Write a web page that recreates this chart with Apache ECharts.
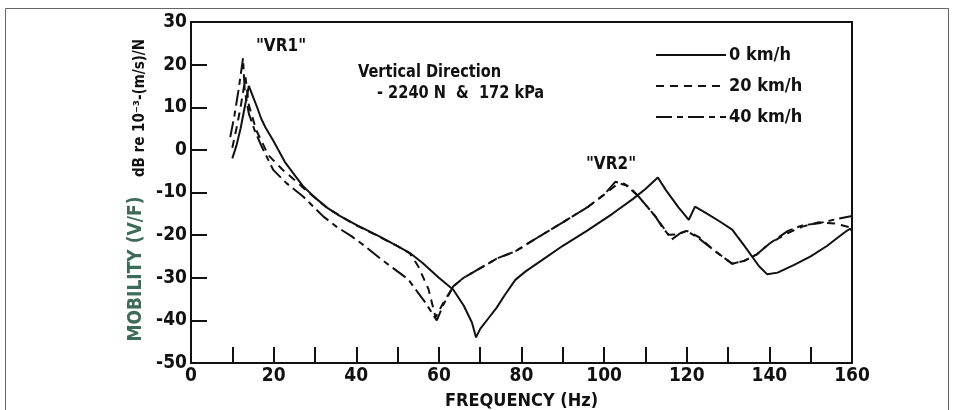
<!DOCTYPE html>
<html>
<head>
<meta charset="utf-8">
<script src="https://cdn.jsdelivr.net/npm/echarts@6/dist/echarts.min.js"></script>
<style>
html,body{margin:0;padding:0;background:#fff;}
#chart{width:960px;height:410px;}
</style>
</head>
<body>
<div id="chart"></div>
<script>
// ---- data ----
const seriesNames = ['0 km/h', '20 km/h', '40 km/h'];

const freq0 = [10, 11, 12, 13, 14, 15, 16, 17, 18, 20, 22.7, 25, 27.2, 30, 33, 36, 40, 45, 50, 53, 56, 60, 63.5, 66, 68, 69, 70, 72, 74, 76, 78.5, 81, 84, 90, 96, 102, 107, 110, 113, 115, 118, 120.5, 122, 125, 128, 131, 134, 137.5, 139.5, 142, 146, 150, 154, 158, 159.5, 160];
const mob0  = [-2, 1, 5, 10, 15, 12.5, 10, 7.3, 5.3, 2, -2.8, -5.8, -8.6, -11.2, -13.6, -15.5, -17.6, -20, -22.6, -24.2, -26.5, -30, -32.8, -36.5, -40.5, -44, -42, -39.5, -37, -34, -30.5, -28.5, -26.5, -22.5, -18.9, -15, -11.5, -9.2, -6.5, -9.5, -13.5, -16.4, -13.3, -15, -16.8, -18.7, -22.6, -27.3, -29.2, -28.8, -27, -25, -22.5, -19.5, -18.5, -19];

const freq20 = [10, 11, 12, 13.2, 14, 15.8, 18.7, 22, 25, 28, 30, 33, 40, 45, 50, 53, 55, 57.5, 59.2, 61, 63.5, 66, 69.6, 74, 78.5, 84, 90, 96.2, 100, 103.5, 106, 108.4, 112.4, 115.6, 117.9, 120, 123, 126.5, 131, 134, 137, 140, 144.5, 148, 152, 156, 160];
const mob20  = [0.5, 5, 10, 17, 10.5, 4.6, -1.2, -4.5, -7, -9.6, -11.2, -13.7, -17.7, -20.1, -22.6, -24.3, -27.3, -32.7, -39.3, -36, -32, -30, -28, -25.5, -23.8, -20.5, -17, -13.3, -10.5, -7.8, -8.5, -11, -15.6, -19.9, -19.8, -19, -20.5, -23.5, -26.7, -26, -24.5, -22, -19.5, -18, -17, -17.3, -18.3];

const freq40 = [9.5, 10.5, 11.5, 12.6, 13, 14, 15.4, 17, 19.9, 23.1, 27.2, 32, 35.2, 38.9, 42, 46.1, 49, 52.6, 56.7, 59.5, 61, 63.5, 66, 69.6, 74, 78.5, 84, 90, 96.2, 100, 102.7, 105, 108.4, 112.4, 114, 116.4, 118.5, 120, 123, 126.5, 131, 134, 137, 140, 144.5, 148, 152, 156, 160];
const mob40  = [3, 8, 14, 21.5, 14, 8.5, 4.6, 1, -4.7, -7.8, -11, -15.6, -18, -20.3, -22.5, -25.7, -27.8, -30.4, -35.8, -40, -36.5, -32, -30, -28, -25.5, -23.8, -20.5, -17, -13.3, -10.5, -7.5, -8, -11, -15.6, -18, -21, -19.5, -19, -20.8, -23.5, -26.7, -26, -24.5, -22, -19, -17.7, -17.2, -16.3, -15.5];

const xTickLabels = ['0', '20', '40', '60', '80', '100', '120', '140', '160'];
const yTickLabels = ['-50', '-40', '-30', '-20', '-10', '0', '10', '20', '30'];

const FONT = "'Liberation Sans Narrow','DejaVu Sans Condensed','Roboto Condensed','Liberation Sans',Arial,sans-serif";

function pairs(fx, fy) { return fx.map((f, i) => [f, fy[i]]); }

const chart = echarts.init(document.getElementById('chart'), null, {renderer: 'canvas'});

const lineCommon = {type: 'line', symbol: 'none', showSymbol: false, smooth: false, z: 3};

const option = {
  animation: false,
  backgroundColor: '#ffffff',
  grid: {left: 191, right: 108, top: 22, bottom: 47, containLabel: false, outerBoundsMode: 'none',
    show: true, borderColor: '#111', borderWidth: 2, backgroundColor: 'transparent'},
  legend: {
    left: 650, top: 41, orient: 'vertical', itemWidth: 70, itemHeight: 14, itemGap: 13,
    data: seriesNames,
    itemStyle: {opacity: 0, borderWidth: 0},
    textStyle: {fontFamily: FONT, fontSize: 18, color: '#111', fontWeight: 'bold', padding: [0, 0, 0, -2]}
  },
  xAxis: {
    type: 'value', min: 0, max: 160, interval: 10,
    axisLine: {show: true, onZero: false, lineStyle: {color: '#111', width: 2}},
    axisTick: {show: true, inside: true, length: 16, lineStyle: {color: '#111', width: 2}},
    splitLine: {show: false},
    axisLabel: {
      margin: 4, fontFamily: FONT, fontSize: 19, color: '#111', fontWeight: 'bold',
      formatter: function (v) { const s = String(v); return xTickLabels.indexOf(s) >= 0 ? s : ''; }
    },
    name: 'FREQUENCY (Hz)', nameLocation: 'middle', nameGap: 29,
    nameTextStyle: {fontFamily: FONT, fontSize: 18, fontWeight: 'bold', color: '#111'}
  },
  yAxis: {
    type: 'value', min: -50, max: 30, interval: 10,
    axisLine: {show: true, onZero: false, lineStyle: {color: '#111', width: 2}},
    axisTick: {show: true, inside: true, length: 16, lineStyle: {color: '#111', width: 2}},
    splitLine: {show: false},
    axisLabel: {
      margin: 4, fontFamily: FONT, fontSize: 19, color: '#111', fontWeight: 'bold',
      formatter: function (v) { const s = String(v); return yTickLabels.indexOf(s) >= 0 ? s : ''; }
    }
  },
  graphic: [
    {type: 'rect', silent: true, shape: {x: 5.5, y: 8.5, width: 943, height: 430}, style: {fill: 'none', stroke: '#666', lineWidth: 1}, z: 0},
    {type: 'text', x: 136, y: 269, rotation: Math.PI / 2, silent: true,
      style: {text: 'MOBILITY (V/F)', fontFamily: FONT, fontSize: 19, fontWeight: 'bold', fill: '#3d6b5a', align: 'center', verticalAlign: 'middle'}},
    {type: 'text', x: 140, y: 108, rotation: Math.PI / 2, silent: true,
      style: {text: 'dB re 10\u207B\u00B3-(m/s)/N', fontFamily: FONT, fontSize: 15, fontWeight: 'bold', fill: '#111', align: 'center', verticalAlign: 'middle'}},
    {type: 'text', x: 281, y: 47, silent: true,
      style: {text: '"VR1"', fontFamily: FONT, fontSize: 17, fontWeight: 'bold', fill: '#111', align: 'center', verticalAlign: 'middle'}},
    {type: 'text', x: 611, y: 165, silent: true,
      style: {text: '"VR2"', fontFamily: FONT, fontSize: 17, fontWeight: 'bold', fill: '#111', align: 'center', verticalAlign: 'middle'}},
    {type: 'text', x: 358, y: 72, scaleX: 0.9, silent: true,
      style: {text: 'Vertical Direction', fontFamily: FONT, fontSize: 18, fontWeight: 'bold', fill: '#111', align: 'left', verticalAlign: 'middle'}},
    {type: 'text', x: 377, y: 93, scaleX: 0.9, silent: true,
      style: {text: '- 2240 N  &  172 kPa', fontFamily: FONT, fontSize: 18, fontWeight: 'bold', fill: '#111', align: 'left', verticalAlign: 'middle'}}
  ],
  series: [
    Object.assign({}, lineCommon, {name: seriesNames[0], data: pairs(freq0, mob0), lineStyle: {color: '#111', width: 2, type: 'solid'}, itemStyle: {color: '#111'}}),
    Object.assign({}, lineCommon, {name: seriesNames[1], data: pairs(freq20, mob20), lineStyle: {color: '#111', width: 2, type: [8, 6]}, itemStyle: {color: '#111'}}),
    Object.assign({}, lineCommon, {name: seriesNames[2], data: pairs(freq40, mob40), lineStyle: {color: '#111', width: 2, type: [16, 5, 6, 5]}, itemStyle: {color: '#111'}})
  ]
};
chart.setOption(option);
</script>
</body>
</html>
